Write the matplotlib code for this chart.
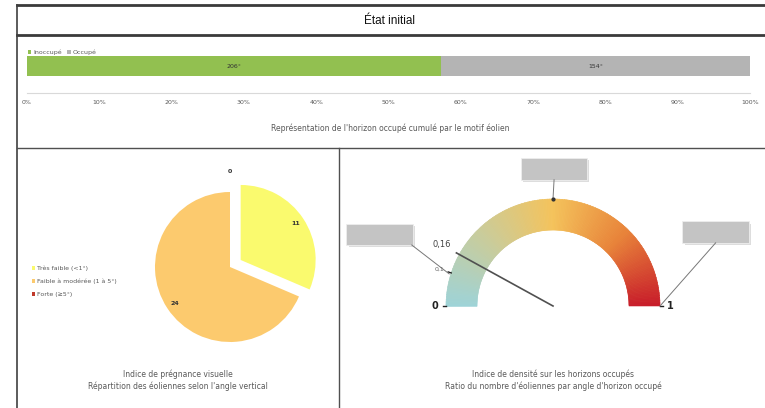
import matplotlib.pyplot as plt
import numpy as np
from matplotlib.patches import Wedge, FancyBboxPatch
from matplotlib.colors import LinearSegmentedColormap
from matplotlib.lines import Line2D

# Horizon occupé (degrés)
horizon_labels = ['Inoccupé', 'Occupé']
horizon_deg = [206, 154]
horizon_colors = ['#92c050', '#b4b4b4']

# Indice de prégnance visuelle
pie_labels = ['Très faible (<1°)', 'Faible à modérée (1 à 5°)', 'Forte (≥5°)']
pie_values = [11, 24, 0]
pie_colors = ['#fafa6e', '#fcca6e', '#c0392b']

# Indice de densité
gauge_value = 0.16
gauge_ticks = [0, 0.1, 1]

W, H = 765, 408
fig = plt.figure(figsize=(7.65, 4.08), dpi=100)
grey_txt = '#595959'


def px_axes(x0, y0, x1, y1):
    return fig.add_axes([x0 / W, 1 - y1 / H, (x1 - x0) / W, (y1 - y0) / H])


def fline(xs, ys, lw=1.0, color='#404040'):
    fig.add_artist(Line2D([x / W for x in xs], [1 - y / H for y in ys],
                          lw=lw, color=color, transform=fig.transFigure))


# cadre
fline([17, 765], [5, 5], lw=2, color='#3a3a3a')
fline([17, 765], [35, 35], lw=2, color='#3a3a3a')
fline([17, 17], [5, 408], lw=1.2)
fline([17, 765], [148, 148], lw=1.0, color='#505050')
fline([339, 339], [148, 408], lw=1.0, color='#505050')

fig.text(390 / W, 1 - 21 / H, 'État initial', ha='center', va='center',
         fontsize=8.5, family='Liberation Sans', color='#111111')

# ---- barre empilée ----
ax = px_axes(27, 56, 750, 93)
total = sum(horizon_deg)
left = 0
for lab, v, c in zip(horizon_labels, horizon_deg, horizon_colors):
    w = v / total * 100
    ax.barh(0, w, left=left, height=1, color=c, label=lab)
    ax.text(left + w / 2, 0, f'{v}°', ha='center', va='center', fontsize=4.5, color='#333333')
    left += w
ax.set_xlim(0, 100)
ax.set_ylim(-1.35, 0.5)
ax.set_xticks(range(0, 101, 10))
ax.set_xticklabels([f'{t}%' for t in range(0, 101, 10)], fontsize=4.5, color=grey_txt)
ax.tick_params(axis='x', length=0, pad=5)
ax.set_yticks([])
for s in ['top', 'left', 'right']:
    ax.spines[s].set_visible(False)
ax.spines['bottom'].set_color('#d9d9d9')
ax.legend(loc='lower left', bbox_to_anchor=(0, 1.0), ncol=2, frameon=False, fontsize=4.5,
          handlelength=0.6, handleheight=0.6, handletextpad=0.3, columnspacing=0.8,
          borderaxespad=0.1, borderpad=0, labelcolor=grey_txt)
fig.text(390 / W, 1 - 128 / H, "Représentation de l'horizon occupé cumulé par le motif éolien",
         ha='center', va='center', fontsize=5.5, color=grey_txt)

# ---- camembert ----
pax = px_axes(230 - 90, 267 - 90, 230 + 90, 267 + 90)
explode = [0.17, 0, 0]
wedges, _ = pax.pie(pie_values, colors=pie_colors, startangle=90, counterclock=False,
                    explode=explode, radius=1,
                    wedgeprops=dict(linewidth=0))
for wdg, v, e in zip(wedges, pie_values, explode):
    th = np.deg2rad((wdg.theta1 + wdg.theta2) / 2)
    r = 0.88 + e if v > 0 else 1.27
    pax.text(r * np.cos(th), r * np.sin(th), str(v), ha='center', va='center',
             fontsize=4.5, color='#333333', fontweight='bold')
pax.set_xlim(-1.2, 1.2)
pax.set_ylim(-1.2, 1.2)
pax.set_aspect('equal')
pax.axis('off')
fig.legend(wedges, pie_labels, loc='upper left', bbox_to_anchor=(26 / W, 1 - 260 / H),
           frameon=False, fontsize=4.5, handlelength=0.6, handleheight=0.6,
           handletextpad=0.3, labelspacing=1.2, labelcolor=grey_txt)
fig.text(178 / W, 1 - 374 / H, 'Indice de prégnance visuelle', ha='center', va='center',
         fontsize=5.5, color=grey_txt)
fig.text(178 / W, 1 - 386 / H, "Répartition des éoliennes selon l'angle vertical",
         ha='center', va='center', fontsize=5.5, color=grey_txt)

# ---- jauge ----
gax = px_axes(340, 150, 765, 408)
R = 107
gax.set_xlim((340 - 553) / R, (765 - 553) / R)
gax.set_ylim((306 - 408) / R, (306 - 150) / R)
gax.set_aspect('equal')
gax.axis('off')
cmap = LinearSegmentedColormap.from_list(
    'g', ['#9ed3d8', '#c9cc9c', '#f4c35c', '#e8843a', '#c81e2a'])
n = 200
for i in range(n):
    t1 = 180 - (i + 1) * 180 / n
    t2 = 180 - i * 180 / n
    c = cmap((i + 0.5) / n)
    gax.add_patch(Wedge((0, 0), 1, t1, t2 + 0.3, width=0.29,
                        fc=c, ec=c, lw=0.4))

ang = np.deg2rad(180 - gauge_value * 180)
gax.plot([0, 1.03 * np.cos(ang)], [0, 1.03 * np.sin(ang)], color='#505050', lw=1.2)
gax.text(1.19 * np.cos(ang), 1.19 * np.sin(ang), f'{gauge_value:.2f}'.replace('.', ','),
         ha='center', va='center', fontsize=6, color='#444444')
for t in gauge_ticks:
    a = np.deg2rad(180 - t * 180)
    gax.plot([np.cos(a), 1.03 * np.cos(a)], [np.sin(a), 1.03 * np.sin(a)], color='#222222', lw=1)
    lab = f'{t:g}'.replace('.', ',')
    if t in (0, 1):
        gax.text(1.1 * np.cos(a), 1.1 * np.sin(a), lab, ha='center', va='center',
                 fontsize=7, fontweight='bold', color='#222222')
    else:
        gax.text(1.12 * np.cos(a), 1.12 * np.sin(a), lab, ha='center', va='center',
                 fontsize=4.5, color='#666666')

# bulles grises
boxes = [((-1.62, 0.67), (-0.97, 0.3)), ((0.01, 1.28), (0, 1.0)), ((1.52, 0.69), (1.0, 0.0))]
for (bx, by), (tx, ty) in boxes:
    gax.plot([bx + (0.3 if bx < -1 else 0), tx], [by - 0.1, ty], color='#777777', lw=0.7)
    if bx == 0.01:
        gax.plot(tx, ty, 'o', color='#333333', ms=2)
    gax.add_patch(FancyBboxPatch((bx - 0.31 + 0.02, by - 0.1 - 0.02), 0.62, 0.2,
                                 boxstyle='square,pad=0', fc='#dddddd', ec='none'))
    gax.add_patch(FancyBboxPatch((bx - 0.31, by - 0.1), 0.62, 0.2,
                                 boxstyle='square,pad=0', fc='#c4c4c4', ec='#eeeeee', lw=0.6))

fig.text(553 / W, 1 - 374 / H, 'Indice de densité sur les horizons occupés', ha='center',
         va='center', fontsize=5.5, color=grey_txt)
fig.text(553 / W, 1 - 386 / H, "Ratio du nombre d'éoliennes par angle d'horizon occupé",
         ha='center', va='center', fontsize=5.5, color=grey_txt)

fig.savefig('out.png', dpi=100)
